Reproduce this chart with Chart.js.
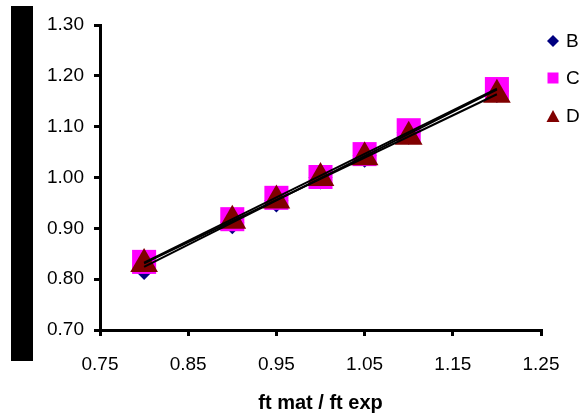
<!DOCTYPE html>
<html>
<head>
<meta charset="utf-8">
<script src="https://cdn.jsdelivr.net/npm/chart.js@4/dist/chart.umd.min.js"></script>
<style>
  body { margin: 0; background: #fff; }
  #wrap { position: relative; width: 584px; height: 417px; }
  #bar { position: absolute; left: 11px; top: 6px; width: 22px; height: 355px; background: #000; }
</style>
</head>
<body>
<div id="wrap">
  <div id="bar"></div>
  <canvas id="chart" width="584" height="417"></canvas>
</div>
<script>
const xValues = [0.80, 0.90, 0.95, 1.00, 1.05, 1.10, 1.20];
const seriesB = [0.822, 0.912, 0.955, 1.000, 1.043, 1.088, 1.170];
const seriesC = [0.834, 0.918, 0.960, 1.001, 1.046, 1.093, 1.174];
const seriesD = [0.830, 0.915, 0.955, 0.999, 1.040, 1.080, 1.163];
const seriesNames = ['B', 'C', 'D'];
const xTicks = [0.75, 0.85, 0.95, 1.05, 1.15, 1.25];
const yTicks = [0.70, 0.80, 0.90, 1.00, 1.10, 1.20, 1.30];

const allSeries = [seriesB, seriesC, seriesD];
const colors = ['#000080', '#ff00ff', '#800000'];
const styles = ['rectRot', 'rect', 'triangle'];
const radii = [12, 17, 16];

// least squares trendline, like the spreadsheet one
function trend(ys) {
    const n = xValues.length;
    const mx = xValues.reduce((a, b) => a + b, 0) / n;
    const my = ys.reduce((a, b) => a + b, 0) / n;
    let sxy = 0, sxx = 0;
    xValues.forEach((x, i) => { sxy += (x - mx) * (ys[i] - my); sxx += (x - mx) * (x - mx); });
    const k = sxy / sxx;
    const x0 = xValues[0], x1 = xValues[n - 1];
    return [{ x: x0, y: my + k * (x0 - mx) }, { x: x1, y: my + k * (x1 - mx) }];
}

const datasets = [];
allSeries.forEach((s, i) => {
    datasets.push({
        type: 'line',
        label: 'trend ' + seriesNames[i],
        data: trend(s),
        borderColor: '#000',
        borderWidth: 2,
        pointRadius: 0,
        order: 0
    });
});
allSeries.forEach((s, i) => {
    datasets.push({
        type: 'scatter',
        label: seriesNames[i],
        data: xValues.map((x, j) => ({ x: x, y: s[j] })),
        backgroundColor: colors[i],
        borderColor: colors[i],
        borderWidth: 0,
        pointStyle: styles[i],
        pointRadius: radii[i],
        pointHoverRadius: radii[i],
        order: 3 - i
    });
});

const legendPlugin = {
    id: 'sideLegend',
    afterDraw(chart) {
        const ctx = chart.ctx;
        const ys = [41, 78, 116];
        ctx.save();
        ctx.font = '19px "Liberation Sans", Arial, sans-serif';
        ctx.textBaseline = 'middle';
        seriesNames.forEach((name, i) => {
            const cx = 553, cy = ys[i];
            ctx.fillStyle = colors[i];
            ctx.beginPath();
            if (styles[i] === 'rectRot') {
                ctx.moveTo(cx, cy - 6); ctx.lineTo(cx + 6, cy); ctx.lineTo(cx, cy + 6); ctx.lineTo(cx - 6, cy);
            } else if (styles[i] === 'rect') {
                ctx.rect(cx - 5.5, cy - 5.5, 11, 11);
            } else {
                ctx.moveTo(cx, cy - 6); ctx.lineTo(cx + 6.5, cy + 6); ctx.lineTo(cx - 6.5, cy + 6);
            }
            ctx.closePath();
            ctx.fill();
            ctx.fillStyle = '#000';
            ctx.fillText(name, 566, cy + 1);
        });
        ctx.restore();
    }
};

const tickFont = { family: '"Liberation Sans", Arial, sans-serif', size: 19 };

new Chart(document.getElementById('chart'), {
    type: 'scatter',
    data: { datasets: datasets },
    options: {
        responsive: false,
        animation: false,
        layout: { padding: { left: 0, right: 43, top: 25, bottom: 0 } },
        plugins: { legend: { display: false }, tooltip: { enabled: false } },
        scales: {
            x: {
                type: 'linear',
                min: 0.75, max: 1.25,
                afterBuildTicks: (s) => { s.ticks = xTicks.map(v => ({ value: v })); },
                afterFit: (s) => { s.height = 87; },
                grid: { drawOnChartArea: false, drawTicks: true, tickLength: 6, lineWidth: 3, color: '#000' },
                border: { display: true, width: 3, color: '#000' },
                ticks: { color: '#000', font: tickFont, padding: 17, maxRotation: 0, callback: v => v.toFixed(2) },
                title: {
                    display: true, text: 'ft mat / ft exp', color: '#000',
                    font: { family: '"Liberation Sans", Arial, sans-serif', size: 20, weight: 'bold' },
                    padding: { top: 0, bottom: 2 }
                }
            },
            y: {
                min: 0.70, max: 1.30,
                afterBuildTicks: (s) => { s.ticks = yTicks.map(v => ({ value: v })); },
                afterFit: (s) => { s.width = 100; },
                grid: { drawOnChartArea: false, drawTicks: true, tickLength: 6, lineWidth: 3, color: '#000' },
                border: { display: true, width: 3, color: '#000' },
                ticks: { color: '#000', font: tickFont, padding: 10, callback: v => v.toFixed(2) }
            }
        }
    },
    plugins: [legendPlugin]
});
</script>
</body>
</html>
